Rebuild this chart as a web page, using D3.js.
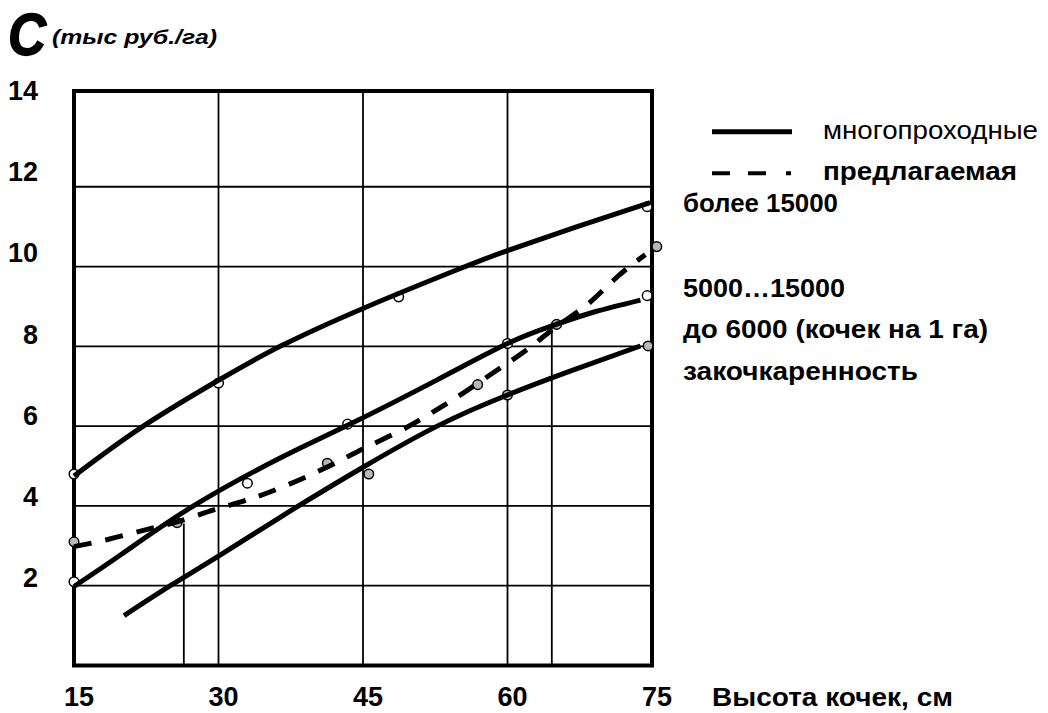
<!DOCTYPE html>
<html>
<head>
<meta charset="utf-8">
<script src="https://cdn.jsdelivr.net/npm/d3@7"></script>
<style>
  html, body { margin: 0; padding: 0; background: #fff; }
  svg { display: block; font-family: "Liberation Sans", Arial, sans-serif; }
</style>
</head>
<body>
<svg id="chart" width="1048" height="713"></svg>
<script>
// ---- data ----
const xTicks = [15, 30, 45, 60, 75];
const yTicks = [2, 4, 6, 8, 10, 12, 14];
const xGrid = [30, 45, 60];
const yGrid = [2, 4, 6, 8, 10, 12];

// "более 15000" (многопроходные)
const topX = [15, 22, 30, 36.4, 45, 55.1, 60, 67, 74.8];
const topY = [4.75, 5.97, 7.15, 8.0, 8.95, 9.95, 10.4, 10.98, 11.6];
// "5000…15000" (многопроходные)
const midX = [15, 20, 27.4, 36.4, 43.4, 52.7, 60, 64.7, 69, 73.8];
const midY = [1.98, 2.8, 4.0, 5.2, 6.02, 7.16, 8.07, 8.52, 8.86, 9.16];
// "до 6000" (многопроходные)
const lowX = [20.2, 25, 30, 37.5, 45, 52.7, 60, 67, 73.8];
const lowY = [1.25, 2.0, 2.74, 3.88, 4.97, 6.0, 6.78, 7.42, 8.01];
// предлагаемая
const dashX = [15, 18.7, 22.4, 25.7, 29.5, 33, 37.1, 41.5, 45, 49, 52.5, 55.6, 58.9, 62.2, 65.1, 68.2, 71.2, 74.3];
const dashY = [2.98, 3.17, 3.4, 3.6, 3.9, 4.15, 4.52, 5.0, 5.43, 5.9, 6.39, 6.86, 7.4, 7.95, 8.5, 9.03, 9.7, 10.3];

// observed points
const ptX = [15, 30, 48.7, 74.5, 75.5, 15, 15, 25.7, 33, 41.3, 43.4, 45.6, 56.9, 60, 60, 65.1, 74.5, 74.6];
const ptY = [4.8, 7.08, 9.24, 11.5, 10.5, 3.1, 2.1, 3.58, 4.57, 5.07, 6.05, 4.8, 7.04, 8.07, 6.78, 8.55, 9.27, 8.01];
const ptGray = [0, 0, 0, 0, 1, 1, 0, 1, 0, 1, 0, 1, 1, 0, 1, 1, 0, 1];

// drop lines (intersection of dashed and middle curve)
const dropX = [26.4, 64.6];
const dropY = [3.56, 8.6];

const legendLabels = ["многопроходные", "предлагаемая"];
const curveLabels = ["более 15000", "5000…15000", "до 6000 (кочек на 1 га)", "закочкаренность"];
const yTitle = "C";
const yUnit = "(тыс руб./га)";
const xTitle = "Высота кочек, см";

// ---- scales ----
const svg = d3.select("#chart");
const x = d3.scaleLinear().domain([15, 75]).range([74, 652]);
const y = d3.scaleLinear().domain([0, 14.4]).range([665.5, 91]);
const yLab = d3.scaleLinear().domain([2, 14]).range([587, 100]);

const g = svg.append("g");

// grid
g.selectAll(".hg").data(yGrid).enter().append("line")
  .attr("x1", x(15)).attr("x2", x(75))
  .attr("y1", d => y(d)).attr("y2", d => y(d))
  .attr("stroke", "#000").attr("stroke-width", 1.8);
g.selectAll(".vg").data(xGrid).enter().append("line")
  .attr("x1", d => x(d)).attr("x2", d => x(d))
  .attr("y1", y(0)).attr("y2", y(14.4))
  .attr("stroke", "#000").attr("stroke-width", 1.8);

// drop lines
g.selectAll(".drop").data(dropX).enter().append("line")
  .attr("x1", d => x(d)).attr("x2", d => x(d))
  .attr("y1", (d, i) => y(dropY[i])).attr("y2", y(0))
  .attr("stroke", "#000").attr("stroke-width", 1.8);

// frame
g.append("rect")
  .attr("x", x(15)).attr("y", y(14.4))
  .attr("width", x(75) - x(15)).attr("height", y(0) - y(14.4))
  .attr("fill", "none").attr("stroke", "#000").attr("stroke-width", 4);

// points (under curves)
const pts = ptX.map((v, i) => ({ x: v, y: ptY[i], gray: ptGray[i] }));
g.selectAll(".pt").data(pts).enter().append("circle")
  .attr("cx", d => x(d.x)).attr("cy", d => y(d.y)).attr("r", 4.8)
  .attr("fill", d => d.gray ? "#b8b8b8" : "#fff")
  .attr("stroke", "#000").attr("stroke-width", 1.5);

// curves
const line = d3.line().x(d => x(d[0])).y(d => y(d[1])).curve(d3.curveNatural);
const zip = (a, b) => a.map((v, i) => [v, b[i]]);
[[topX, topY], [midX, midY], [lowX, lowY]].forEach(([a, b]) => {
  g.append("path").attr("d", line(zip(a, b)))
    .attr("fill", "none").attr("stroke", "#000").attr("stroke-width", 5);
});
g.append("path").attr("d", line(zip(dashX, dashY)))
  .attr("fill", "none").attr("stroke", "#000").attr("stroke-width", 5)
  .attr("stroke-dasharray", "18,14");

// y tick labels
g.selectAll(".yt").data(yTicks).enter().append("text")
  .attr("x", 38).attr("y", d => yLab(d))
  .attr("text-anchor", "end").attr("font-size", 27).attr("font-weight", "bold")
  .text(d => d);

// x tick labels
g.selectAll(".xt").data(xTicks).enter().append("text")
  .attr("x", d => x(d) + 5).attr("y", 706)
  .attr("text-anchor", "middle").attr("font-size", 27).attr("font-weight", "bold")
  .text(d => d);

// axis titles
svg.append("text").attr("x", 8).attr("y", 55)
  .attr("font-size", 60).attr("font-weight", "bold").attr("font-style", "italic")
  .attr("textLength", 38).attr("lengthAdjust", "spacingAndGlyphs")
  .attr("stroke", "#000").attr("stroke-width", 1.5)
  .text(yTitle);
svg.append("text").attr("x", 52).attr("y", 44)
  .attr("font-size", 21).attr("font-weight", "bold").attr("font-style", "italic")
  .attr("textLength", 165).attr("lengthAdjust", "spacingAndGlyphs")
  .text(yUnit);
svg.append("text").attr("x", 712).attr("y", 706)
  .attr("font-size", 26).attr("font-weight", "bold")
  .attr("textLength", 241).attr("lengthAdjust", "spacingAndGlyphs")
  .text(xTitle);

// legend
svg.append("line").attr("x1", 712).attr("x2", 792).attr("y1", 131.7).attr("y2", 131.7)
  .attr("stroke", "#000").attr("stroke-width", 5);
svg.append("line").attr("x1", 712).attr("x2", 792).attr("y1", 173.3).attr("y2", 173.3)
  .attr("stroke", "#000").attr("stroke-width", 4)
  .attr("stroke-dasharray", "18,18,18,20,5,100");
svg.append("text").attr("x", 823).attr("y", 139)
  .attr("font-size", 25)
  .attr("textLength", 215).attr("lengthAdjust", "spacingAndGlyphs")
  .text(legendLabels[0]);
svg.append("text").attr("x", 823).attr("y", 180)
  .attr("font-size", 25).attr("font-weight", "bold")
  .attr("textLength", 194).attr("lengthAdjust", "spacingAndGlyphs")
  .text(legendLabels[1]);

// curve labels
const clY = [211.7, 296.7, 337.5, 380];
const clW = [155, 162, 305, 235];
svg.selectAll(".cl").data(curveLabels).enter().append("text")
  .attr("x", 683).attr("y", (d, i) => clY[i])
  .attr("font-size", 25).attr("font-weight", "bold")
  .attr("textLength", (d, i) => clW[i]).attr("lengthAdjust", "spacingAndGlyphs")
  .text(d => d);
</script>
</body>
</html>
